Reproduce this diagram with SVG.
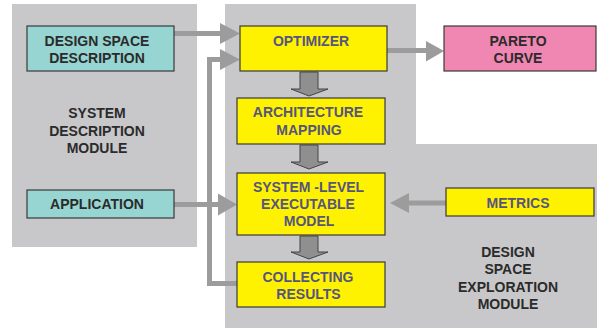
<svg xmlns="http://www.w3.org/2000/svg" width="597" height="328" viewBox="0 0 597 328">
<style>
text{font-family:"Liberation Sans",Arial,sans-serif;font-weight:bold;font-size:14px;text-anchor:middle}
.dk{fill:#2b2b2b}
.pu{fill:#55557f}
.box{stroke:#3a3a3a;stroke-width:1.2}
.teal{fill:#96d5d1}
.yel{fill:#fff200}
.pink{fill:#f087b2}
.conn{stroke:#9c9c9c;stroke-width:5;fill:none}
.head{fill:#9c9c9c}
.blk{fill:#8f8f8f;stroke:#444;stroke-width:1}
.panel{fill:#c8c8ca}
</style>
<rect width="597" height="328" fill="#fff"/>
<g id="panels">
<rect id="sdm" class="panel" x="12" y="4" width="185" height="243"/>
<polygon id="dsem" class="panel" points="225,4 416,4 416,144 597,144 597,328 225,328"/>
<text class="dk" x="97" y="118">SYSTEM</text>
<text class="dk" x="97" y="136">DESCRIPTION</text>
<text class="dk" x="97" y="153">MODULE</text>
<text class="dk" x="508" y="257">DESIGN</text>
<text class="dk" x="508" y="274">SPACE</text>
<text class="dk" x="508" y="292">EXPLORATION</text>
<text class="dk" x="508" y="309">MODULE</text>
</g>
<g id="connectors">
<line class="conn" x1="174" y1="33.5" x2="222" y2="33.5"/>
<polygon class="head" points="220,23 240,33.5 220,44"/>
<polyline class="conn" points="237,283.5 209.5,283.5 209.5,59.5 222,59.5"/>
<polygon class="head" points="220,49 240,59.5 220,70"/>
<line class="conn" x1="174" y1="204.5" x2="220" y2="204.5"/>
<polygon class="head" points="218,193.5 237,204.5 218,215.5"/>
<line class="conn" x1="387" y1="50.5" x2="428" y2="50.5"/>
<polygon class="head" points="426,41 444,51 426,61.5"/>
<line class="conn" x1="446" y1="203" x2="407" y2="203"/>
<polygon class="head" points="409,193 390,203 409,213"/>
<polygon class="blk" points="300,72 318,72 318,89 328,89 309,96 291,89 300,89"/>
<polygon class="blk" points="300,145 318,145 318,162 328,162 309,169 291,162 300,162"/>
<polygon class="blk" points="300,236 318,236 318,252 328,252 309,259 291,252 300,252"/>
</g>
<g id="dsd">
<rect class="box teal" x="27" y="26" width="147" height="45"/>
<text class="dk" x="97" y="46">DESIGN SPACE</text>
<text class="dk" x="97" y="63">DESCRIPTION</text>
</g>
<g id="application">
<rect class="box teal" x="27" y="190" width="147" height="28"/>
<text class="dk" x="97" y="209">APPLICATION</text>
</g>
<g id="optimizer">
<rect class="box yel" x="240" y="26" width="147" height="45"/>
<text class="pu" x="311" y="46">OPTIMIZER</text>
</g>
<g id="pareto">
<rect class="box pink" x="444" y="26" width="152" height="45"/>
<text class="dk" x="518" y="46">PARETO</text>
<text class="dk" x="518" y="63">CURVE</text>
</g>
<g id="arch">
<rect class="box yel" x="237" y="98" width="148" height="46"/>
<text class="pu" x="308" y="117">ARCHITECTURE</text>
<text class="pu" x="309" y="135">MAPPING</text>
</g>
<g id="syslevel">
<rect class="box yel" x="237" y="173" width="148" height="62"/>
<text class="pu" x="308.5" y="192">SYSTEM -LEVEL</text>
<text class="pu" x="308" y="209">EXECUTABLE</text>
<text class="pu" x="309" y="226">MODEL</text>
</g>
<g id="collecting">
<rect class="box yel" x="237" y="262" width="148" height="45"/>
<text class="pu" x="308" y="282">COLLECTING</text>
<text class="pu" x="308.5" y="299">RESULTS</text>
</g>
<g id="metrics">
<rect class="box yel" x="446" y="188" width="148" height="28"/>
<text class="pu" x="518" y="208">METRICS</text>
</g>
</svg>
